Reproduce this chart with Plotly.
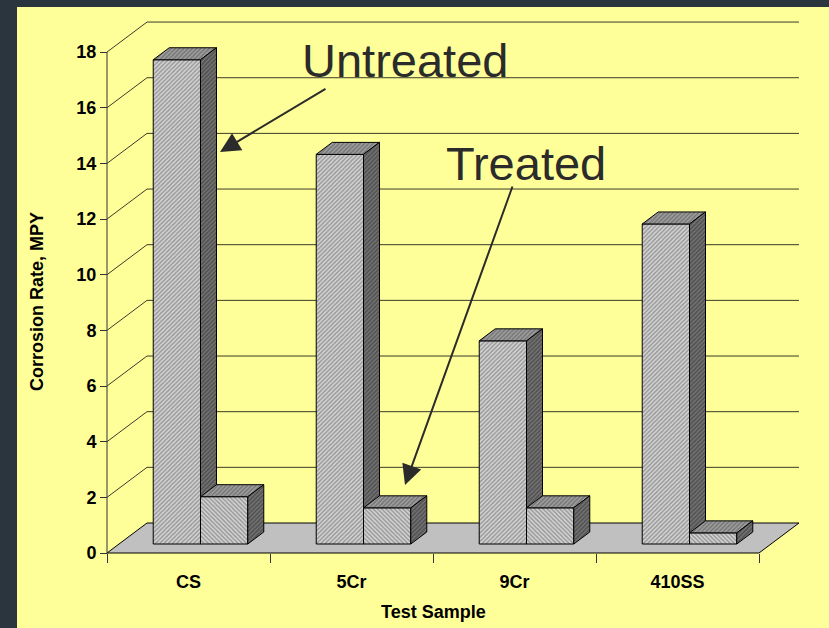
import plotly.graph_objects as go

# ---- data -------------------------------------------------------------
samples = ["CS", "5Cr", "9Cr", "410SS"]
untreated = [17.4, 14.0, 7.3, 11.5]
treated = [1.7, 1.3, 1.3, 0.4]
y_ticks = [0, 2, 4, 6, 8, 10, 12, 14, 16, 18]

# ---- frame geometry (pixels) -----------------------------------------
W, H = 829, 628
X0_PX, Y0_PX = 107, 553          # front-left corner of the floor
CAT_PX = 163                     # width of one category slot
UNIT_PX = 27.83                  # pixels per MPY
DEPTH_PX = (40, 30)              # perspective offset of the back wall
PLOT_L, PLOT_R, PLOT_T, PLOT_B = 95, 815, 10, 560

DX = DEPTH_PX[0] / CAT_PX        # depth offset in data units
DY = DEPTH_PX[1] / UNIT_PX
BAR_W = 0.29
GAP = 0.21
D_FRONT, D_BACK = 0.3, 0.7       # bar depth as a fraction of the floor

FONT = "'Liberation Sans', Arial, sans-serif"


def px_to_data(px, py):
    return (px - X0_PX) / CAT_PX, (Y0_PX - py) / UNIT_PX


def px_to_paper(px, py):
    return (px - PLOT_L) / (PLOT_R - PLOT_L), (PLOT_B - py) / (PLOT_B - PLOT_T)


fig = go.Figure()

# back wall gridlines and side-wall diagonals
gx, gy = [], []
for v in y_ticks[1:]:
    gx += [0, DX, len(samples) + DX, None]
    gy += [v, v + DY, v + DY, None]
fig.add_trace(go.Scatter(x=gx, y=gy, mode="lines",
                         line=dict(color="#3b3b2a", width=1),
                         hoverinfo="skip", showlegend=False))

# floor
n = len(samples)
fig.add_trace(go.Scatter(x=[0, n, n + DX, DX, 0], y=[0, 0, DY, DY, 0],
                         mode="lines", fill="toself", fillcolor="#c0c0c0",
                         line=dict(color="#000000", width=1),
                         hoverinfo="skip", showlegend=False))

# vertical axis line
fig.add_trace(go.Scatter(x=[0, 0], y=[0, y_ticks[-1]], mode="lines",
                         line=dict(color="#333333", width=1),
                         hoverinfo="skip", showlegend=False))

FRONT_U = dict(shape="/", bgcolor="#d6d6d6", fgcolor="#5a5a5a", size=3, solidity=0.5)
FRONT_T = dict(shape="\\", bgcolor="#d6d6d6", fgcolor="#5a5a5a", size=3, solidity=0.5)
TOP = dict(shape="/", bgcolor="#a0a0a0", fgcolor="#4a4a4a", size=3, solidity=0.5)
SIDE = dict(shape="/", bgcolor="#747474", fgcolor="#2a2a2a", size=3, solidity=0.5)


def face(xs, ys, pattern):
    fig.add_trace(go.Scatter(x=xs + [xs[0]], y=ys + [ys[0]], mode="lines",
                             fill="toself", fillpattern=pattern,
                             fillcolor="rgba(0,0,0,0)",
                             line=dict(color="#000000", width=1),
                             hoverinfo="skip", showlegend=False))


def bar3d(x0, value, front_pattern):
    x1 = x0 + BAR_W
    fx, fy = D_FRONT * DX, D_FRONT * DY
    bx, by = D_BACK * DX, D_BACK * DY
    # front face
    face([x0 + fx, x1 + fx, x1 + fx, x0 + fx],
         [fy, fy, value + fy, value + fy], front_pattern)
    # top face
    face([x0 + fx, x1 + fx, x1 + bx, x0 + bx],
         [value + fy, value + fy, value + by, value + by], TOP)
    # right side face
    face([x1 + fx, x1 + bx, x1 + bx, x1 + fx],
         [fy, by, value + by, value + fy], SIDE)


for i in range(n):
    bar3d(i + GAP, untreated[i], FRONT_U)
    bar3d(i + GAP + BAR_W, treated[i], FRONT_T)

# ---- annotations ------------------------------------------------------
TXT = "#2b2b2b"
anns = []
ux, uy = px_to_paper(405, 60)
anns.append(dict(x=ux, y=uy, text="Untreated", showarrow=False,
                 font=dict(family=FONT, size=47, color=TXT)))
tx, ty = px_to_paper(526, 163)
anns.append(dict(x=tx, y=ty, text="Treated", showarrow=False,
                 font=dict(family=FONT, size=47, color=TXT)))

for tip, tail in [((220, 152), (327, 88)), ((405, 485), (513, 185))]:
    hx, hy = px_to_paper(*tip)
    anns.append(dict(x=hx, y=hy, ax=tail[0] - tip[0], ay=tail[1] - tip[1],
                     axref="pixel", ayref="pixel",
                     text="", showarrow=True, arrowhead=2, arrowsize=2.0,
                     arrowwidth=2, arrowcolor="#2b2b2b"))

yx, yy = px_to_paper(37, 301)
anns.append(dict(x=yx, y=yy, text="Corrosion Rate, MPY", textangle=-90,
                 showarrow=False,
                 font=dict(family=FONT, size=18, color="#000000", weight="bold")))
sx_, sy_ = px_to_paper(433, 612)
anns.append(dict(x=sx_, y=sy_, text="Test Sample", showarrow=False,
                 font=dict(family=FONT, size=18, color="#000000", weight="bold")))

for a in anns:
    a["xref"] = "paper"
    a["yref"] = "paper"
    a["xanchor"] = "center"
    a["yanchor"] = "middle"

# dark slide border along the top and left edges
shapes = []
lx0, by0 = px_to_paper(0, H)
lx1, ty1 = px_to_paper(17, 0)
shapes.append(dict(type="rect", xref="paper", yref="paper", x0=lx0, x1=lx1,
                   y0=by0, y1=ty1, fillcolor="#2b353d", line=dict(width=0),
                   layer="below"))
rx1, ty0 = px_to_paper(W, 7)
shapes.append(dict(type="rect", xref="paper", yref="paper", x0=lx0, x1=rx1,
                   y0=ty0, y1=ty1, fillcolor="#2b353d", line=dict(width=0),
                   layer="below"))

xr0, _ = px_to_data(PLOT_L, 0)
xr1, _ = px_to_data(PLOT_R, 0)
_, yr0 = px_to_data(0, PLOT_B)
_, yr1 = px_to_data(0, PLOT_T)
ypos, _ = px_to_paper(X0_PX, 0)
_, xpos = px_to_paper(0, Y0_PX)

tick_font = dict(family=FONT, size=18, color="#000000", weight="bold")

fig.update_layout(
    width=W, height=H,
    margin=dict(l=PLOT_L, r=W - PLOT_R, t=PLOT_T, b=H - PLOT_B),
    paper_bgcolor="#ffff99", plot_bgcolor="rgba(0,0,0,0)",
    showlegend=False,
    xaxis=dict(range=[xr0, xr1], anchor="free", position=xpos,
               tickmode="array", tickvals=[i + 0.5 for i in range(n)],
               ticktext=samples, ticks="outside", ticklen=12,
               tickcolor="rgba(0,0,0,0)", tickfont=tick_font,
               showgrid=False, zeroline=False, showline=False,
               minor=dict(tickvals=list(range(n + 1)), ticks="outside",
                          ticklen=9, tickcolor="#333333", tickwidth=1,
                          showgrid=False)),
    yaxis=dict(range=[yr0, yr1], anchor="free", position=ypos,
               tickmode="array", tickvals=y_ticks, ticks="outside",
               ticklen=7, tickcolor="#333333", tickfont=tick_font,
               showgrid=False, zeroline=False, showline=False),
    annotations=anns,
    shapes=shapes,
)

fig.write_html("out.html")
